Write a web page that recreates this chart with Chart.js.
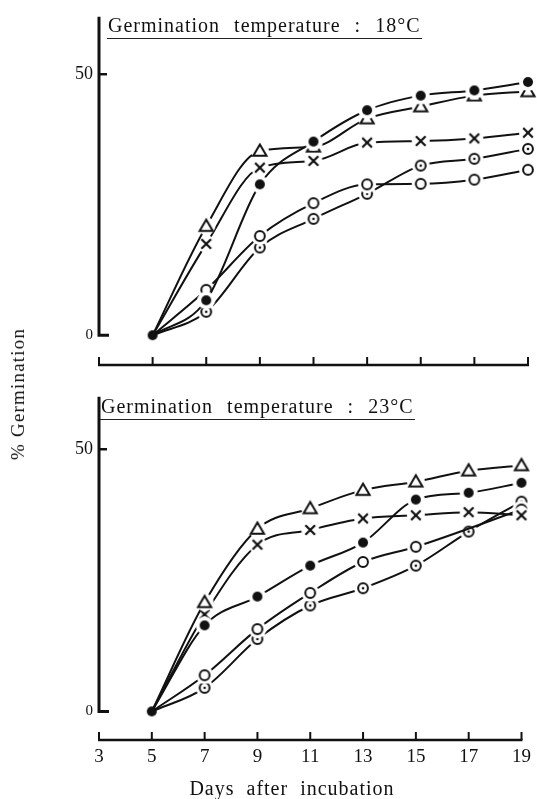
<!DOCTYPE html>
<html>
<head>
<meta charset="utf-8">
<title>% Germination</title>
<script src="https://cdn.jsdelivr.net/npm/chart.js@4"></script>
<style>
  html, body { margin: 0; padding: 0; background: #fff; }
  #wrap { position: relative; width: 537px; height: 799px; overflow: hidden; font-family: "Liberation Serif", "DejaVu Serif", serif; color: #111; }
  canvas { position: absolute; left: 0; }
  .ptitle { position: absolute; font-size: 20px; letter-spacing: 1px; word-spacing: 8px; white-space: nowrap; border-bottom: 1.5px solid #222; padding: 0 2px 2px 1px; line-height: 22px; }
  #ytitle { position: absolute; left: 18px; top: 394px; font-size: 19px; letter-spacing: 1.2px; white-space: nowrap; transform: translate(-50%, -50%) rotate(-90deg); }
  #xtitle { position: absolute; left: 292px; top: 788px; font-size: 20px; letter-spacing: 1px; word-spacing: 6px; white-space: nowrap; transform: translate(-50%, -50%); }
</style>
</head>
<body>
<div id="wrap">
  <canvas id="chartTop" width="537" height="380" style="top:0"></canvas>
  <canvas id="chartBottom" width="537" height="419" style="top:380px"></canvas>
  <div class="ptitle" style="left:107px; top:14px">Germination temperature : 18°C</div>
  <div class="ptitle" style="left:100px; top:395px">Germination temperature : 23°C</div>
  <div id="ytitle">% Germination</div>
  <div id="xtitle">Days after incubation</div>
</div>
<script>
// ===============================
// Data
// ===============================
const days = [5, 7, 9, 11, 13, 15, 17, 19];
const dayTicks = [3, 5, 7, 9, 11, 13, 15, 17, 19];
const yTicks = [0, 50];

// 18 C
const top_filled   = [0, 6.7, 28.9, 37.1, 43.1, 45.9, 46.9, 48.5];
const top_triangle = [0, 20.9, 35.3, 36.1, 41.5, 43.8, 45.9, 46.7];
const top_cross    = [0, 17.5, 32.1, 33.4, 36.9, 37.2, 37.7, 38.8];
const top_open     = [0, 8.7, 19.0, 25.3, 28.9, 29.0, 29.8, 31.7];
const top_dotted   = [0, 4.5, 16.8, 22.3, 27.1, 32.5, 33.8, 35.7];

// 23 C
const bot_filled   = [0, 16.4, 21.9, 27.8, 32.2, 40.4, 41.7, 43.6];
const bot_triangle = [0, 20.8, 34.8, 38.7, 42.2, 43.8, 45.9, 46.9];
const bot_cross    = [0, 18.5, 31.8, 34.6, 36.8, 37.4, 38.0, 37.4];
const bot_open     = [0, 6.9, 15.7, 22.6, 28.5, 31.4, null, 38.5];
const bot_dotted   = [0, 4.5, 13.8, 20.2, 23.5, 27.8, 34.3, 40.0];

document.addEventListener("DOMContentLoaded", function () {
  const INK = "#111";

  // ===============================
  // Marker images (white halo so the lines stop short of the symbol)
  // ===============================
  function makeMarker(kind) {
    const c = document.createElement("canvas");
    c.width = 24;
    c.height = 24;
    const g = c.getContext("2d");
    const m = 12;
    if (kind !== "origin") {
      g.fillStyle = "#fff";
      g.beginPath();
      g.arc(m, m, 9, 0, Math.PI * 2);
      g.fill();
    }
    g.strokeStyle = INK;
    g.fillStyle = INK;
    g.lineWidth = 2;
    if (kind === "filled" || kind === "origin") {
      g.beginPath();
      g.arc(m, m, 5, 0, Math.PI * 2);
      g.fill();
    } else if (kind === "open" || kind === "dotted") {
      g.fillStyle = "#fff";
      g.beginPath();
      g.arc(m, m, 4.9, 0, Math.PI * 2);
      g.fill();
      g.stroke();
      if (kind === "dotted") {
        g.fillStyle = INK;
        g.beginPath();
        g.arc(m, m, 1.3, 0, Math.PI * 2);
        g.fill();
      }
    } else if (kind === "triangle") {
      g.beginPath();
      g.moveTo(m, m - 6.5);
      g.lineTo(m + 6.6, m + 4.8);
      g.lineTo(m - 6.6, m + 4.8);
      g.closePath();
      g.stroke();
    } else if (kind === "cross") {
      g.lineWidth = 2.2;
      g.beginPath();
      g.moveTo(m - 4.8, m - 4.8);
      g.lineTo(m + 4.8, m + 4.8);
      g.moveTo(m + 4.8, m - 4.8);
      g.lineTo(m - 4.8, m + 4.8);
      g.stroke();
    }
    return c;
  }

  const markers = {
    filled: makeMarker("filled"),
    triangle: makeMarker("triangle"),
    cross: makeMarker("cross"),
    open: makeMarker("open"),
    dotted: makeMarker("dotted"),
    origin: makeMarker("origin")
  };

  function series(values, kind) {
    const showOrigin = kind === "filled";
    return {
      data: days.map((d, i) => ({ x: d, y: values[i] })),
      borderColor: INK,
      borderWidth: 2,
      cubicInterpolationMode: "monotone",
      spanGaps: true,
      clip: false,
      pointStyle: (ctx) => (ctx.dataIndex === 0 ? markers.origin : markers[kind]),
      pointRadius: (ctx) => (ctx.dataIndex === 0 && !showOrigin ? 0 : 5),
      pointHoverRadius: 5
    };
  }

  // ===============================
  // Axis frame drawn from the scales (L-shaped y axis, x axis with inner ticks)
  // ===============================
  const axisFrame = {
    id: "axisFrame",
    beforeDatasetsDraw(chart) {
      const { ctx, chartArea, scales } = chart;
      const x = scales.x;
      const y = scales.y;
      const left = chartArea.left;
      const bottom = chartArea.bottom;
      const y0 = y.getPixelForValue(0);
      const y50 = y.getPixelForValue(50);
      ctx.save();
      ctx.strokeStyle = INK;
      ctx.lineWidth = 3;
      ctx.beginPath();
      ctx.moveTo(left, chartArea.top);
      ctx.lineTo(left, y0);
      ctx.lineTo(left + 10, y0);
      ctx.stroke();
      ctx.lineWidth = 2.5;
      ctx.beginPath();
      ctx.moveTo(left, y50);
      ctx.lineTo(left + 8, y50);
      ctx.stroke();
      ctx.lineWidth = 2.5;
      ctx.beginPath();
      ctx.moveTo(x.getPixelForValue(dayTicks[0]) - 1, bottom);
      ctx.lineTo(x.getPixelForValue(dayTicks[dayTicks.length - 1]) + 1, bottom);
      ctx.stroke();
      ctx.lineWidth = 2;
      ctx.beginPath();
      dayTicks.forEach((d) => {
        const px = x.getPixelForValue(d);
        ctx.moveTo(px, bottom);
        ctx.lineTo(px, bottom - 8);
      });
      ctx.stroke();
      ctx.restore();
    }
  };

  function buildChart(canvasId, sets, cfg) {
    return new Chart(document.getElementById(canvasId), {
      type: "line",
      data: { datasets: sets },
      plugins: [axisFrame],
      options: {
        responsive: false,
        animation: false,
        layout: { padding: { top: cfg.padTop, right: 9, left: 0, bottom: 0 } },
        plugins: { legend: { display: false }, tooltip: { enabled: false } },
        scales: {
          x: {
            type: "linear",
            min: 3,
            max: 19,
            border: { display: false },
            grid: { display: false, drawTicks: false },
            afterBuildTicks: (s) => { s.ticks = dayTicks.map((v) => ({ value: v })); },
            ticks: {
              display: cfg.showX,
              padding: 6,
              color: INK,
              maxRotation: 0,
              font: { family: "Liberation Serif", size: 19 }
            },
            afterFit: (s) => { s.height = cfg.xHeight; }
          },
          y: {
            min: cfg.yMin,
            max: cfg.yMax,
            border: { display: false },
            grid: { display: false, drawTicks: false },
            afterBuildTicks: (s) => { s.ticks = yTicks.map((v) => ({ value: v })); },
            ticks: {
              padding: 6,
              color: INK,
              font: (ctx) => ({ family: "Liberation Serif", size: ctx.tick && ctx.tick.value === 0 ? 15 : 18 })
            },
            afterFit: (s) => { s.width = 99; }
          }
        }
      }
    });
  }

  buildChart("chartTop", [
    series(top_filled, "filled"),
    series(top_triangle, "triangle"),
    series(top_cross, "cross"),
    series(top_open, "open"),
    series(top_dotted, "dotted")
  ], { padTop: 13.7, yMin: -5.7, yMax: 61, xHeight: 12.8, showX: false });

  buildChart("chartBottom", [
    series(bot_filled, "filled"),
    series(bot_triangle, "triangle"),
    series(bot_cross, "cross"),
    series(bot_open, "open"),
    series(bot_dotted, "dotted")
  ], { padTop: 11.8, yMin: -5.45, yMax: 60, xHeight: 59, showX: true });
});
</script>
</body>
</html>
